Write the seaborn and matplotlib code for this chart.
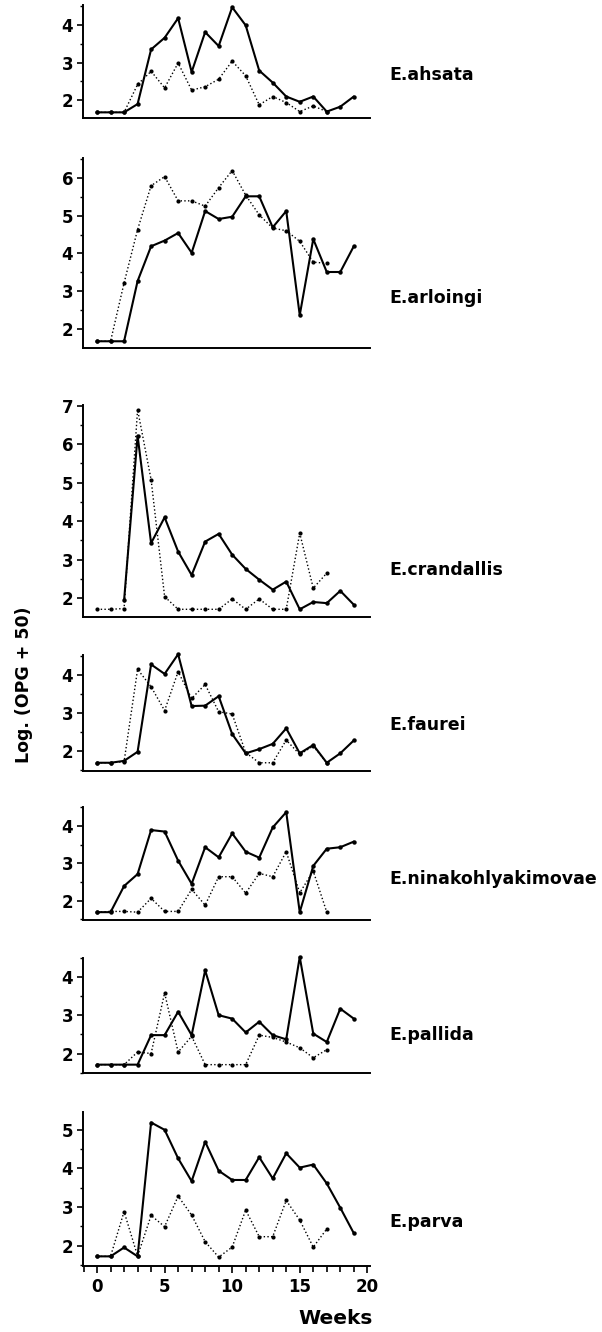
import matplotlib
matplotlib.use("Agg")
import matplotlib.pyplot as plt
from matplotlib.ticker import MultipleLocator, FixedLocator
import seaborn as sns

# Log(OPG + 50) per week, solid = first series, dotted = second series
species = ["E.ahsata", "E.arloingi", "E.crandallis", "E.faurei",
           "E.ninakohlyakimovae", "E.pallida", "E.parva"]

ahsata_solid = [1.68, 1.68, 1.68, 1.90, 3.35, 3.66, 4.18, 2.75, 3.81, 3.44,
                4.47, 3.99, 2.79, 2.47, 2.10, 1.96, 2.10, 1.70, 1.83, 2.10]
ahsata_dot = [1.68, 1.68, 1.68, 2.42, 2.77, 2.33, 2.99, 2.27, 2.36, 2.56,
              3.04, 2.65, 1.88, 2.10, 1.94, 1.70, 1.85, 1.70]

arloingi_solid = [1.68, 1.68, 1.68, 3.27, 4.19, 4.34, 4.54, 4.02, 5.12, 4.91,
                  4.97, 5.51, 5.51, 4.69, 5.12, 2.37, 4.38, 3.51, 3.51, 4.19]
arloingi_dot = [1.68, 1.68, 3.22, 4.63, 5.79, 6.03, 5.39, 5.39, 5.25, 5.74,
                6.19, 5.54, 5.02, 4.67, 4.60, 4.32, 3.77, 3.74]

crandallis_solid = [None, None, 1.94, 6.22, 3.43, 4.10, 3.21, 2.60, 3.47, 3.67,
                    3.13, 2.76, 2.48, 2.22, 2.43, 1.71, 1.90, 1.87, 2.19, 1.83]
crandallis_dot = [1.71, 1.71, 1.73, 6.90, 5.08, 2.04, 1.71, 1.71, 1.71, 1.71,
                  1.98, 1.71, 1.98, 1.71, 1.71, 3.69, 2.26, 2.65]

faurei_solid = [1.68, 1.68, 1.73, 1.97, 4.28, 4.03, 4.55, 3.18, 3.19, 3.44,
                2.44, 1.93, 2.04, 2.18, 2.59, 1.93, 2.15, 1.68, 1.93, 2.27]
faurei_dot = [1.68, 1.68, 1.71, 4.15, 3.69, 3.06, 4.09, 3.38, 3.75, 3.03,
              2.97, 1.95, 1.68, 1.68, 2.28, 1.90, 2.12, 1.68]

nina_solid = [1.69, 1.69, 2.39, 2.71, 3.89, 3.85, 3.07, 2.45, 3.43, 3.16,
              3.80, 3.31, 3.15, 3.96, 4.37, 1.69, 2.93, 3.39, 3.43, 3.58]
nina_dot = [1.69, 1.71, 1.71, 1.69, 2.06, 1.71, 1.71, 2.30, 1.88, 2.64,
            2.64, 2.20, 2.73, 2.64, 3.31, 2.21, 2.79, 1.69]

pallida_solid = [1.71, 1.71, 1.71, 1.71, 2.48, 2.48, 3.09, 2.48, 4.17, 3.00,
                 2.91, 2.55, 2.83, 2.48, 2.37, 4.52, 2.52, 2.30, 3.17, 2.91]
pallida_dot = [1.71, 1.71, 1.71, 2.04, 2.00, 3.58, 2.04, 2.45, 1.71, 1.71,
               1.71, 1.71, 2.48, 2.42, 2.30, 2.15, 1.89, 2.10]

parva_solid = [1.72, 1.72, 1.95, 1.72, 5.19, 5.00, 4.26, 3.67, 4.69, 3.94,
               3.70, 3.70, 4.29, 3.74, 4.39, 4.02, 4.10, 3.61, 2.98, 2.32]
parva_dot = [1.72, 1.72, 2.88, 1.73, 2.78, 2.49, 3.28, 2.79, 2.10, 1.70,
             1.96, 2.92, 2.23, 2.23, 3.17, 2.66, 1.96, 2.43]

solid_series = [ahsata_solid, arloingi_solid, crandallis_solid, faurei_solid,
                nina_solid, pallida_solid, parva_solid]
dot_series = [ahsata_dot, arloingi_dot, crandallis_dot, faurei_dot,
              nina_dot, pallida_dot, parva_dot]

# panel layout in pixels: top, bottom, y-limits
panels = [(5, 118, 1.53, 4.53), (157.7, 347.7, 1.51, 6.53),
          (405, 617, 1.51, 7.02), (655, 770.7, 1.47, 4.53),
          (807.3, 920, 1.48, 4.50), (957.7, 1072.7, 1.50, 4.50),
          (1111.7, 1266, 1.47, 5.47)]
label_y = [75, 298, 570, 725, 879, 1035, 1222]

W, H = 602, 1332
sns.set_style("ticks")
plt.rcParams['font.family'] = ['DejaVu Sans']
plt.rcParams['text.color'] = 'black'
plt.rcParams['xtick.color'] = 'black'
plt.rcParams['ytick.color'] = 'black'
fig = plt.figure(figsize=(W / 100, H / 100), dpi=100)

left, right = 83, 370
for i, (top, bottom, y0, y1) in enumerate(panels):
    ax = fig.add_axes([left / W, 1 - bottom / H, (right - left) / W, (bottom - top) / H])
    s = solid_series[i]
    d = dot_series[i]
    sx = [w for w, v in enumerate(s) if v is not None]
    sy = [v for v in s if v is not None]
    sns.lineplot(x=list(range(len(d))), y=d, ax=ax, color="black", linestyle=":",
                 linewidth=1.0, marker="o", markersize=3, markeredgewidth=0,
                 clip_on=False)
    sns.lineplot(x=sx, y=sy, ax=ax, color="black", linewidth=1.5,
                 marker="o", markersize=3.2, markeredgewidth=0, clip_on=False)
    ax.set_xlim(-1.04, 20.2)
    ax.set_ylim(y0, y1)
    sns.despine(ax=ax)
    for sp in ["left", "bottom"]:
        ax.spines[sp].set_linewidth(1.4)
        ax.spines[sp].set_color("black")
    ax.yaxis.set_major_locator(MultipleLocator(1))
    ax.yaxis.set_minor_locator(MultipleLocator(0.5))
    ax.tick_params(axis="y", which="major", length=4, width=1.2, labelsize=12,
                   pad=3, colors="black")
    ax.tick_params(axis="y", which="minor", length=2.5, width=1)
    for lab in ax.get_yticklabels():
        lab.set_fontweight("bold")
    ax.set_xlabel("")
    ax.set_ylabel("")
    if i == len(panels) - 1:
        ax.xaxis.set_major_locator(FixedLocator([0, 5, 10, 15, 20]))
        ax.xaxis.set_minor_locator(MultipleLocator(1))
        ax.tick_params(axis="x", which="major", length=5, width=1.2, labelsize=12,
                       pad=4, colors="black")
        ax.tick_params(axis="x", which="minor", length=4, width=1.2)
        for lab in ax.get_xticklabels():
            lab.set_fontweight("bold")
    else:
        ax.set_xticks([])
    fig.text(389 / W, 1 - label_y[i] / H, species[i], fontsize=12.5,
             fontweight="bold", va="center", ha="left")

fig.text(24 / W, 1 - 685 / H, "Log. (OPG + 50)", rotation=90, fontsize=12.5,
         fontweight="bold", va="center", ha="center")
fig.text(336 / W, 1 - 1318 / H, "Weeks", fontsize=14.5, fontweight="bold",
         va="center", ha="center")

fig.savefig("out.png", dpi=100, facecolor="white")
